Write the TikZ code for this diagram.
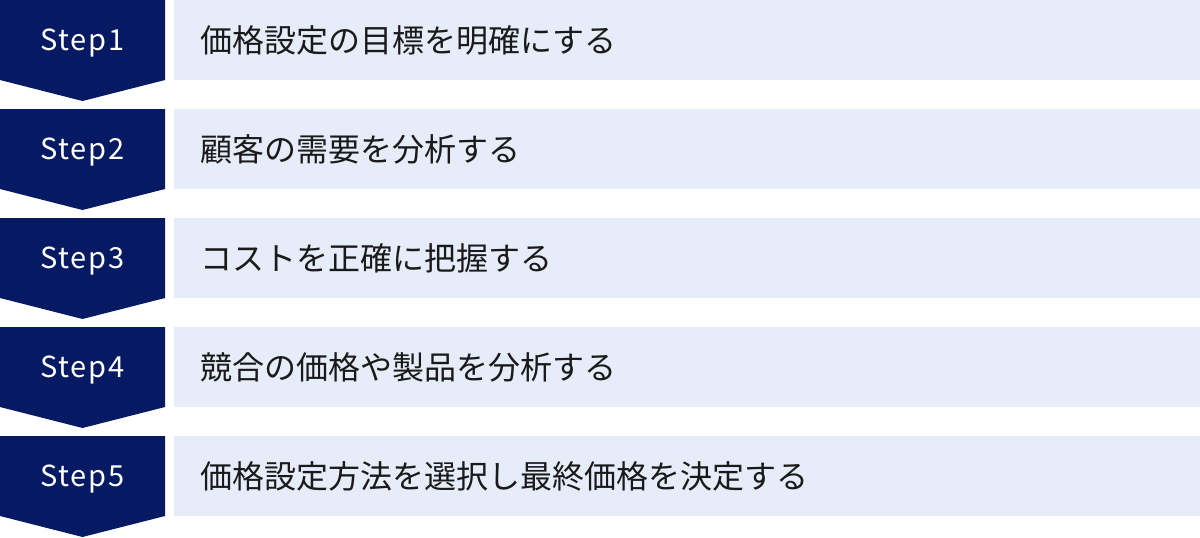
\documentclass[tikz,border=0pt]{standalone}
\usepackage{fontspec}
\setmainfont{Noto Sans CJK JP}
\newfontfamily\stepfont[LetterSpace=6]{Noto Sans CJK JP}
\definecolor{stepnavy}{HTML}{061963}
\definecolor{rowblue}{HTML}{E6ECF9}
\definecolor{labelink}{HTML}{1A1A1A}
\begin{document}
\begin{tikzpicture}[x=1pt,y=-1pt]
        \tikzstyle{stepmark}=[fill=stepnavy]
        \tikzstyle{rowband}=[fill=rowblue]
        \tikzstyle{steplabel}=[text=white,inner sep=0pt,font=\stepfont\fontsize{29}{29}\selectfont]
        \tikzstyle{rowtext}=[anchor=west,inner sep=0pt,text=labelink,font=\fontsize{32}{32}\selectfont]
       \useasboundingbox (0,0) rectangle (1200,538);
       \begin{scope}
         \foreach \i/\txt in {1/価格設定の目標を明確にする,
                              2/顧客の需要を分析する,
                              3/コストを正確に把握する,
                              4/競合の価格や製品を分析する,
                              5/価格設定方法を選択し最終価格を決定する}{
           \pgfmathsetmacro{\rowy}{(\i-1)*109}
           \fill[stepmark] (0,\rowy) -- (165,\rowy) -- (165,\rowy+80) -- (82.5,\rowy+101) -- (0,\rowy+80) -- cycle;
           \fill[rowband] (174,\rowy) rectangle (1200,\rowy+80);
           \node [steplabel] (s\i) at (82.5,\rowy+43) {Step\i};
           \node [rowtext] (t\i) at (200,\rowy+40) {\txt};
         }
        \end{scope}
      \end{tikzpicture}
\end{document}
